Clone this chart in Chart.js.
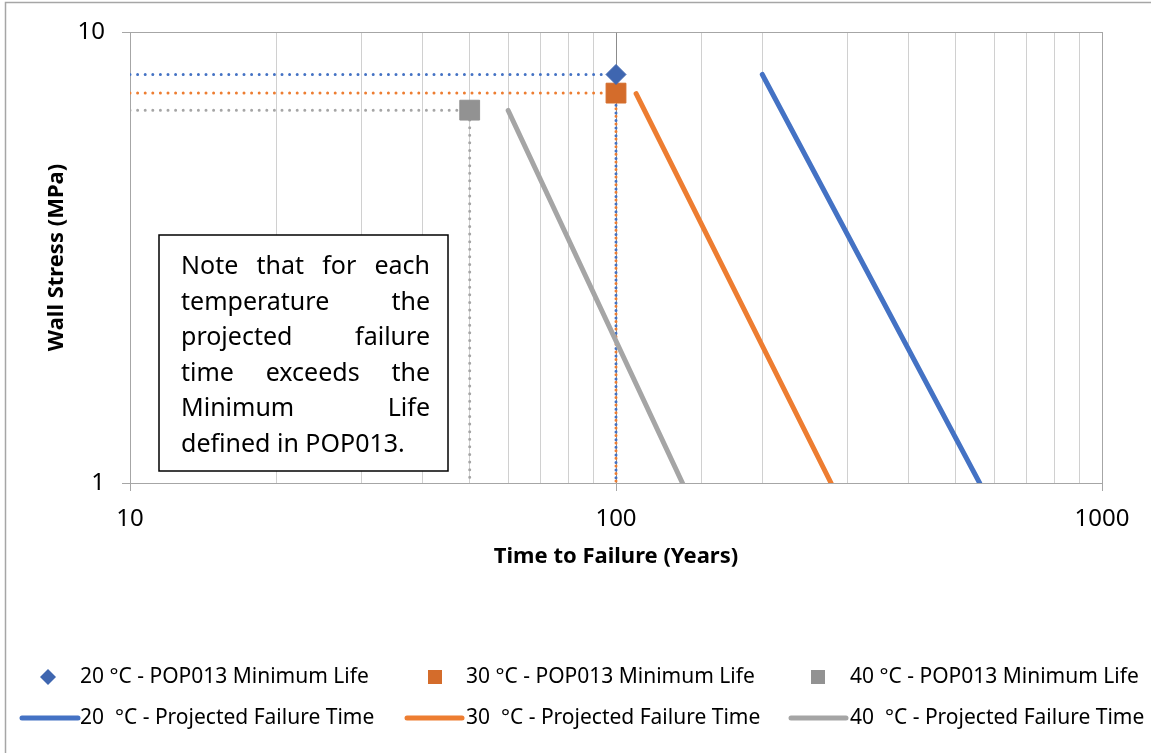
<!DOCTYPE html>
<html>
<head>
<meta charset="utf-8">
<script src="https://cdn.jsdelivr.net/npm/chart.js@4"></script>
<style>
  html, body { margin: 0; padding: 0; background: #fff; }
  #wrap { width: 1151px; height: 753px; }
</style>
</head>
<body>
<div id="wrap"><canvas id="stressChart" width="1151" height="753"></canvas></div>
<script>
// temperatures and the values
const temps = ['20', '30', '40'];
const minLifeYears = [100, 100, 50];          // POP013 minimum life
const minLifeStress = [8.05, 7.32, 6.71];     // MPa at the marker
const projTimeTop = [200, 110, 60];           // projected failure line, upper end
const projStressTop = [8.05, 7.3, 6.7];
const projTimeBottom = [560, 277, 137];       // lower end, at 1 MPa
const projStressBottom = [1, 1, 1];

const xTickLabels = [10, 100, 1000];
const yTickLabels = [1, 10];

const noteLines = [
    'Note that for each',
    'temperature the',
    'projected failure',
    'time exceeds the',
    'Minimum Life',
    'defined in POP013.'
];

const lineColors = ['#4472C4', '#ED7D31', '#A5A5A5'];
const markerColors = ['#3F66B0', '#D46C2B', '#929292'];
const markerStyles = ['rectRot', 'rect', 'rect'];
const markerRadius = [10, 14, 14];

const FONT = "'Noto Sans', sans-serif";

var datasets = [];

// markers first so they sit on top
for (let i = 0; i < temps.length; i++) {
    datasets.push({
        label: temps[i] + ' °C - POP013 Minimum Life',
        data: [{ x: minLifeYears[i], y: minLifeStress[i] }],
        pointStyle: markerStyles[i],
        pointRadius: markerRadius[i],
        backgroundColor: markerColors[i],
        borderColor: markerColors[i],
        borderWidth: 1,
        showLine: false,
        order: 1
    });
}

// projected failure lines
for (let i = 0; i < temps.length; i++) {
    datasets.push({
        label: temps[i] + '  °C - Projected Failure Time',
        data: [
            { x: projTimeTop[i], y: projStressTop[i] },
            { x: projTimeBottom[i], y: projStressBottom[i] }
        ],
        showLine: true,
        pointRadius: 0,
        borderColor: lineColors[i],
        backgroundColor: lineColors[i],
        borderWidth: 5,
        borderCapStyle: 'round',
        order: 2
    });
}

// dotted guide lines from the axes to the markers
for (let i = temps.length - 1; i >= 0; i--) {
    datasets.push({
        label: 'guide ' + temps[i],
        data: [
            { x: 10, y: minLifeStress[i] },
            { x: minLifeYears[i], y: minLifeStress[i] },
            { x: minLifeYears[i], y: 1 }
        ],
        showLine: true,
        pointRadius: 0,
        borderColor: lineColors[i],
        borderWidth: 3,
        borderDash: [0, 7.6],
        borderCapStyle: 'round',
        order: 3
    });
}

function isPow10(v) {
    return Math.abs(Math.log10(v) - Math.round(Math.log10(v))) < 1e-9;
}

// outer frame, note box and the legend are drawn by hand
const extrasPlugin = {
    id: 'extras',
    beforeDraw(chart) {
        const ctx = chart.ctx;
        ctx.save();
        ctx.strokeStyle = '#A6A6A6';
        ctx.lineWidth = 1.5;
        ctx.beginPath();
        ctx.moveTo(5.5, 760);
        ctx.lineTo(5.5, 2.5);
        ctx.lineTo(1160, 2.5);
        ctx.stroke();
        ctx.restore();
    },
    afterDraw(chart) {
        const ctx = chart.ctx;
        ctx.save();

        // note box
        ctx.fillStyle = '#fff';
        ctx.fillRect(159, 235, 289, 236);
        ctx.strokeStyle = '#000';
        ctx.lineWidth = 1.5;
        ctx.strokeRect(159, 235, 289, 236);

        ctx.fillStyle = '#000';
        ctx.font = '25px ' + FONT;
        ctx.textBaseline = 'alphabetic';
        ctx.textAlign = 'left';
        const left = 181, right = 430;
        noteLines.forEach(function (line, idx) {
            const y = 274 + idx * 35.6;
            const words = line.split(' ');
            if (idx === noteLines.length - 1 || words.length < 2) {
                ctx.fillText(line, left, y);
                return;
            }
            let total = 0;
            words.forEach(w => total += ctx.measureText(w).width);
            const gap = (right - left - total) / (words.length - 1);
            let x = left;
            words.forEach(function (w) {
                ctx.fillText(w, x, y);
                x += ctx.measureText(w).width + gap;
            });
        });

        // legend
        const colX = [48, 435, 818];
        const textX = [80, 466, 850];
        const lineX = [[22, 78], [407, 462], [791, 846]];
        const row1 = 677, row2 = 718;
        ctx.font = '21px ' + FONT;
        ctx.textBaseline = 'middle';
        for (let i = 0; i < temps.length; i++) {
            ctx.fillStyle = markerColors[i];
            if (markerStyles[i] === 'rectRot') {
                ctx.beginPath();
                ctx.moveTo(colX[i], row1 - 8);
                ctx.lineTo(colX[i] + 8, row1);
                ctx.lineTo(colX[i], row1 + 8);
                ctx.lineTo(colX[i] - 8, row1);
                ctx.closePath();
                ctx.fill();
            } else {
                ctx.fillRect(colX[i] - 7, row1 - 7, 14, 14);
            }
            ctx.fillStyle = '#000';
            ctx.fillText(datasets[i].label, textX[i], row1);

            ctx.strokeStyle = lineColors[i];
            ctx.lineWidth = 5;
            ctx.lineCap = 'round';
            ctx.beginPath();
            ctx.moveTo(lineX[i][0], row2);
            ctx.lineTo(lineX[i][1], row2);
            ctx.stroke();
            ctx.fillStyle = '#000';
            ctx.fillText(datasets[temps.length + i].label, textX[i], row2);
        }
        ctx.restore();
    }
};

var ctx = document.getElementById('stressChart').getContext('2d');
var stressChart = new Chart(ctx, {
    type: 'scatter',
    data: { datasets: datasets },
    plugins: [extrasPlugin],
    options: {
        responsive: false,
        animation: false,
        layout: {
            padding: { left: 5, right: 49, top: 32, bottom: 170 }
        },
        plugins: {
            legend: { display: false },
            tooltip: { enabled: false }
        },
        scales: {
            x: {
                type: 'logarithmic',
                min: 10,
                max: 1000,
                afterFit: function (scale) { scale.height = 100; },
                border: { color: '#A6A6A6', width: 1 },
                grid: {
                    color: function (c) {
                        if (!c.tick) return '#D0D0D0';
                        if (c.tick.value === 100) return '#8C8C8C';
                        if (isPow10(c.tick.value)) return '#A6A6A6';
                        return '#D0D0D0';
                    },
                    tickColor: function (c) {
                        return c.tick && isPow10(c.tick.value) ? '#A6A6A6' : 'rgba(0,0,0,0)';
                    },
                    tickLength: 8
                },
                ticks: {
                    autoSkip: false,
                    maxRotation: 0,
                    padding: 14,
                    color: '#000',
                    font: { family: FONT, size: 24 },
                    callback: function (v) {
                        return xTickLabels.indexOf(v) >= 0 ? String(v) : '';
                    }
                },
                title: {
                    display: true,
                    text: 'Time to Failure (Years)',
                    color: '#000',
                    font: { family: FONT, size: 22, weight: 'bold' },
                    padding: { top: 0, bottom: 13 }
                }
            },
            y: {
                type: 'logarithmic',
                min: 1,
                max: 10,
                afterFit: function (scale) { scale.width = 125; },
                border: { color: '#A6A6A6', width: 1 },
                grid: {
                    color: function (c) {
                        return c.tick && (c.tick.value === 10 || c.tick.value === 1) ? '#A6A6A6' : 'rgba(0,0,0,0)';
                    },
                    tickColor: function (c) {
                        return c.tick && (c.tick.value === 10 || c.tick.value === 1) ? '#A6A6A6' : 'rgba(0,0,0,0)';
                    },
                    tickLength: 8
                },
                ticks: {
                    autoSkip: false,
                    padding: 17,
                    color: '#000',
                    font: { family: FONT, size: 24 },
                    callback: function (v) {
                        return yTickLabels.indexOf(v) >= 0 ? String(v) : '';
                    }
                },
                title: {
                    display: true,
                    text: 'Wall Stress (MPa)',
                    color: '#000',
                    font: { family: FONT, size: 22, weight: 'bold' },
                    padding: { top: 39, bottom: 0 }
                }
            }
        }
    }
});
</script>
</body>
</html>
